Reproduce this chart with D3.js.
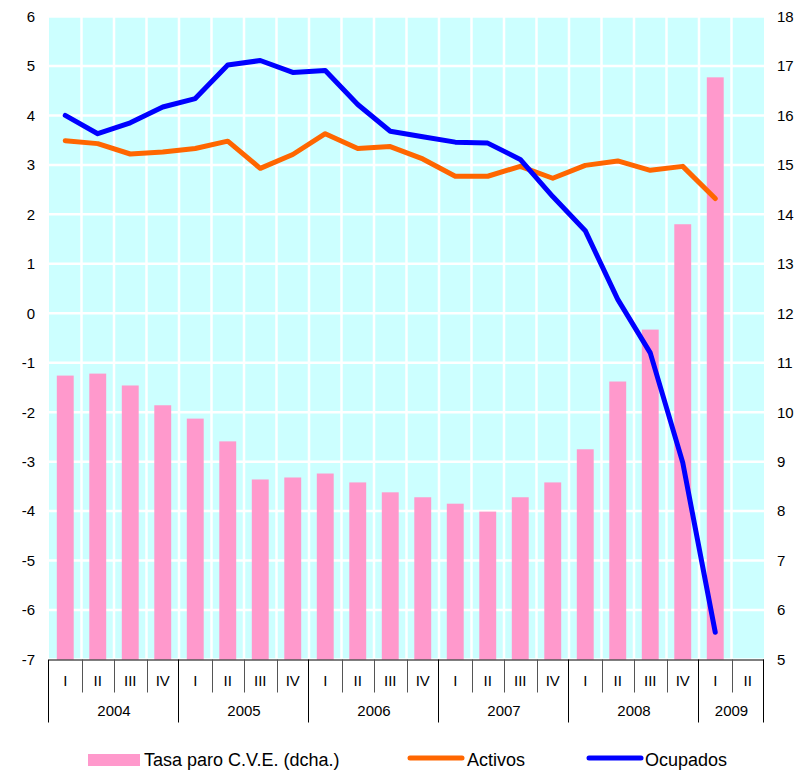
<!DOCTYPE html>
<html>
<head>
<meta charset="utf-8">
<script src="https://cdn.jsdelivr.net/npm/d3@7"></script>
<style>
    body { margin: 0; background: #fff; }
    text { font-family: "Liberation Sans", Arial, sans-serif; fill: #000; }
</style>
</head>
<body>
<svg id="chart" width="801" height="776"></svg>
<script>
// quarters 2004 I .. 2009 II
const years = ["2004", "2005", "2006", "2007", "2008", "2009"];
const quarters = ["I", "II", "III", "IV"];
const categories = [];
years.forEach(function (y) {
    quarters.forEach(function (q) {
        if (y === "2009" && categories.filter(function (c) { return c.year === y; }).length === 2) return;
        categories.push({ year: y, q: q, key: y + "-" + q });
    });
});

// right axis (bars)
const tasaParo = [10.74, 10.78, 10.54, 10.14, 9.87, 9.41, 8.64, 8.68, 8.76, 8.58, 8.38, 8.28,
    8.15, 7.99, 8.28, 8.58, 9.25, 10.62, 11.67, 13.80, 16.77, null];
// left axis (lines)
const activos = [3.49, 3.43, 3.22, 3.26, 3.33, 3.48, 2.93, 3.21, 3.63, 3.33, 3.37, 3.12,
    2.77, 2.77, 2.97, 2.73, 2.99, 3.08, 2.89, 2.97, 2.32, null];
const ocupados = [4.00, 3.63, 3.85, 4.17, 4.34, 5.02, 5.11, 4.87, 4.91, 4.22, 3.68, 3.57,
    3.46, 3.44, 3.11, 2.36, 1.67, 0.28, -0.80, -3.02, -6.45, null];

const leftTicks = d3.range(-7, 7);
const rightTicks = d3.range(5, 19);

const svg = d3.select("#chart");
const plot = { left: 49, right: 764, top: 16.5, bottom: 659.5 };

const x = d3.scaleBand()
    .domain(categories.map(function (c) { return c.key; }))
    .range([plot.left, plot.right]);
const xBar = d3.scaleBand()
    .domain(x.domain())
    .range([plot.left, plot.right])
    .paddingInner(0.48)
    .paddingOuter(0.24);
const yL = d3.scaleLinear().domain([-7, 6]).range([plot.bottom, plot.top]);
const yR = d3.scaleLinear().domain([5, 18]).range([plot.bottom, plot.top]);

// background + white grid
svg.append("rect")
    .attr("x", plot.left).attr("y", plot.top)
    .attr("width", plot.right - plot.left).attr("height", plot.bottom - plot.top)
    .attr("fill", "#ccffff");

svg.append("g").selectAll("line")
    .data(leftTicks)
    .join("line")
    .attr("x1", plot.left).attr("x2", plot.right)
    .attr("y1", function (d) { return yL(d); }).attr("y2", function (d) { return yL(d); })
    .attr("stroke", "#fff").attr("stroke-width", 2.5);

svg.append("g").selectAll("line")
    .data(categories.slice(1))
    .join("line")
    .attr("x1", function (d) { return x(d.key); }).attr("x2", function (d) { return x(d.key); })
    .attr("y1", plot.top).attr("y2", plot.bottom)
    .attr("stroke", "#fff").attr("stroke-width", 2.5);

// bars
svg.append("g").selectAll("rect")
    .data(categories.map(function (c, i) { return { key: c.key, v: tasaParo[i] }; })
        .filter(function (d) { return d.v != null; }))
    .join("rect")
    .attr("x", function (d) { return xBar(d.key); })
    .attr("width", xBar.bandwidth())
    .attr("y", function (d) { return yR(d.v); })
    .attr("height", function (d) { return yR(5) - yR(d.v); })
    .attr("fill", "#ff99cc");

// lines
function drawLine(values, color) {
    const line = d3.line()
        .defined(function (d) { return d != null; })
        .x(function (d, i) { return x(categories[i].key) + x.bandwidth() / 2; })
        .y(function (d) { return yL(d); });
    svg.append("path")
        .datum(values)
        .attr("d", line)
        .attr("fill", "none")
        .attr("stroke", color)
        .attr("stroke-width", 5)
        .attr("stroke-linejoin", "round")
        .attr("stroke-linecap", "round");
}
drawLine(activos, "#ff6600");
drawLine(ocupados, "#0000ff");

// y axes
const yAxisL = svg.append("g")
    .attr("transform", "translate(" + (plot.left - 14) + ",0)")
    .call(d3.axisLeft(yL).tickValues(leftTicks).tickSize(0).tickPadding(0)
        .tickFormat(function (d) { return String(d); }));
const yAxisR = svg.append("g")
    .attr("transform", "translate(" + (plot.right + 13) + ",0)")
    .call(d3.axisRight(yR).tickValues(rightTicks).tickSize(0).tickPadding(0)
        .tickFormat(function (d) { return String(d); }));
[yAxisL, yAxisR].forEach(function (a) {
    a.select(".domain").remove();
    a.selectAll("text")
        .attr("font-family", "Liberation Sans, Arial, sans-serif")
        .attr("font-size", 15)
        .attr("fill", "#000");
});

// x axis: quarter row + year row
const xa = svg.append("g");
xa.append("line")
    .attr("x1", plot.left).attr("x2", plot.right)
    .attr("y1", plot.bottom + 0.5).attr("y2", plot.bottom + 0.5)
    .attr("stroke", "#000");

xa.selectAll("line.q")
    .data(categories.filter(function (c) { return c.q !== "I"; }))
    .join("line")
    .attr("class", "q")
    .attr("x1", function (d) { return Math.round(x(d.key)) + 0.5; })
    .attr("x2", function (d) { return Math.round(x(d.key)) + 0.5; })
    .attr("y1", plot.bottom).attr("y2", plot.bottom + 33)
    .attr("stroke", "#555");

const yearEdges = years.map(function (y) {
    const cs = categories.filter(function (c) { return c.year === y; });
    return { year: y, x0: x(cs[0].key), x1: x(cs[cs.length - 1].key) + x.bandwidth() };
});
xa.selectAll("line.y")
    .data(yearEdges.map(function (d) { return d.x0; }).concat([plot.right]))
    .join("line")
    .attr("class", "y")
    .attr("x1", function (d) { return Math.round(d) - 0.5; })
    .attr("x2", function (d) { return Math.round(d) - 0.5; })
    .attr("y1", plot.bottom).attr("y2", plot.bottom + 63)
    .attr("stroke", "#000");

xa.selectAll("text.q")
    .data(categories)
    .join("text")
    .attr("class", "q")
    .attr("x", function (d) { return x(d.key) + x.bandwidth() / 2; })
    .attr("y", plot.bottom + 26)
    .attr("text-anchor", "middle")
    .attr("font-size", 15)
    .text(function (d) { return d.q; });

xa.selectAll("text.y")
    .data(yearEdges)
    .join("text")
    .attr("class", "y")
    .attr("x", function (d) { return (d.x0 + d.x1) / 2; })
    .attr("y", plot.bottom + 56)
    .attr("text-anchor", "middle")
    .attr("font-size", 15)
    .text(function (d) { return d.year; });

// legend
const lg = svg.append("g").attr("font-size", 18);
lg.append("rect").attr("x", 88).attr("y", 754).attr("width", 52).attr("height", 12).attr("fill", "#ff99cc");
lg.append("text").attr("x", 144).attr("y", 766).text("Tasa paro C.V.E. (dcha.)");
lg.append("line").attr("x1", 410).attr("x2", 462).attr("y1", 758).attr("y2", 758)
    .attr("stroke", "#ff6600").attr("stroke-width", 5).attr("stroke-linecap", "round");
lg.append("text").attr("x", 467).attr("y", 766).text("Activos");
lg.append("line").attr("x1", 589).attr("x2", 641).attr("y1", 758).attr("y2", 758)
    .attr("stroke", "#0000ff").attr("stroke-width", 5).attr("stroke-linecap", "round");
lg.append("text").attr("x", 645).attr("y", 766).text("Ocupados");
</script>
</body>
</html>
